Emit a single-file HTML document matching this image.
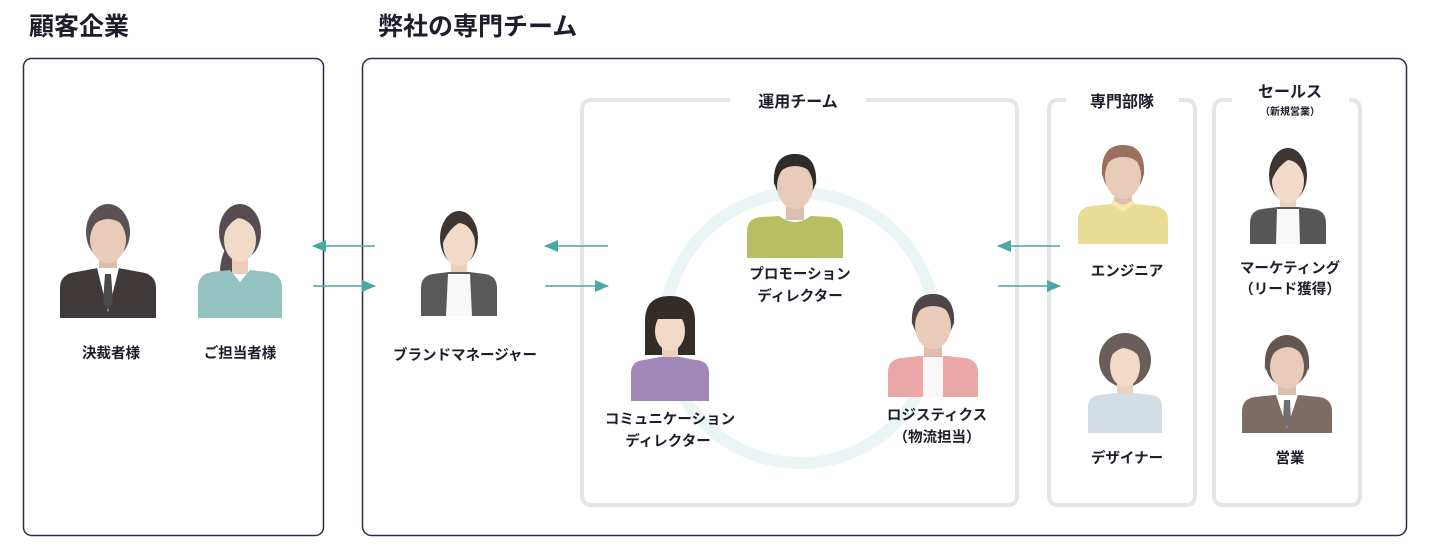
<!DOCTYPE html>
<html><head><meta charset="utf-8"><style>
html,body{margin:0;padding:0;background:#fff;}
svg{display:block;font-family:"Liberation Sans","Noto Sans CJK JP",sans-serif;}
.t{font-size:14.5px;font-weight:bold;fill:#1d1d2b;text-anchor:middle;}
.h{font-size:16px;font-weight:bold;fill:#1d1d2b;text-anchor:middle;}
</style></head><body>
<svg width="1440" height="555" viewBox="0 0 1440 555" xmlns="http://www.w3.org/2000/svg">
<defs>
<marker id="ah" markerWidth="14" markerHeight="12" refX="13" refY="6" orient="auto" markerUnits="userSpaceOnUse"><path d="M0,0 L14,6 L0,12Z" fill="#4aa8a4"/></marker>
</defs>
<text x="29" y="35" font-size="25" font-weight="bold" fill="#1d1d2b">顧客企業</text>
<text x="378" y="35" font-size="25" font-weight="bold" fill="#1d1d2b">弊社の専門チーム</text>
<rect x="23.5" y="58.5" width="300" height="477" rx="8" fill="none" stroke="#2b2d42" stroke-width="1.5"/>
<rect x="362.5" y="58.5" width="1044" height="477" rx="9" fill="none" stroke="#2b2d42" stroke-width="1.5"/>
<path d="M730,100 H592 Q582,100 582,110 V495 Q582,505 592,505 H1007 Q1017,505 1017,495 V110 Q1017,100 1007,100 H866" fill="none" stroke="#e4e4e9" stroke-width="4"/>
<text class="h" x="798" y="107">運用チーム</text>
<path d="M1066,100 H1058 Q1049,100 1049,110 V495 Q1049,505 1058,505 H1186 Q1195,505 1195,495 V110 Q1195,100 1186,100 H1179" fill="none" stroke="#e4e4e9" stroke-width="4"/>
<text class="h" x="1122" y="107">専門部隊</text>
<path d="M1232,100 H1223 Q1214,100 1214,110 V495 Q1214,505 1223,505 H1351 Q1360,505 1360,495 V110 Q1360,100 1351,100 H1349" fill="none" stroke="#e4e4e9" stroke-width="4"/>
<text class="h" x="1290" y="97" font-size="17">セールス</text>
<text x="1290" y="115" font-size="10" font-weight="bold" fill="#1d1d2b" text-anchor="middle">（新規営業）</text>
<circle cx="800" cy="328" r="135" fill="none" stroke="#ebf5f5" stroke-width="12"/>
<g stroke="#4aa8a4" stroke-width="1.6" fill="none">
<line x1="375" y1="246" x2="313" y2="246" marker-end="url(#ah)"/>
<line x1="313" y1="286" x2="375" y2="286" marker-end="url(#ah)"/>
<line x1="608" y1="246" x2="545" y2="246" marker-end="url(#ah)"/>
<line x1="545" y1="286" x2="608" y2="286" marker-end="url(#ah)"/>
<line x1="1060" y1="246" x2="998" y2="246" marker-end="url(#ah)"/>
<line x1="998" y1="286" x2="1060" y2="286" marker-end="url(#ah)"/>
</g>

<g transform="translate(108,202)">
<ellipse cx="0" cy="30" rx="22" ry="28" fill="#5a5254"/>
<rect x="-9" y="50" width="18" height="22" fill="#dcbfae"/>
<path d="M-48,116 L-48,86 Q-48,72 -32,70 L-10,66 L10,66 L32,70 Q48,72 48,86 L48,116Z" fill="#3f3a39"/>
<path d="M-11,66 L0,110 L11,66Z" fill="#fff"/><path d="M-3,72 L3,72 L5,100 L0,108 L-5,100Z" fill="#4a4a4a"/>
<ellipse cx="0" cy="38" rx="18" ry="23" fill="#e8cbb8"/>
<path d="M-21,36 Q-23,4 0,4 Q23,4 21,36 Q18,18 0,17 Q-17,18 -21,36Z" fill="#5a5254"/>
</g>
<g transform="translate(240,202)">
<ellipse cx="0" cy="30" rx="21" ry="28" fill="#554d4f"/>
<path d="M-14,45 Q-26,70 -14,95 Q-4,80 -8,55Z" fill="#554d4f"/>
<rect x="-8" y="50" width="16" height="22" fill="#ecd0bc"/>
<path d="M-42,116 L-42,86 Q-42,72 -28,70 L-10,68 L0,80 L10,68 L28,70 Q42,72 42,86 L42,116Z" fill="#93c2c1"/>
<ellipse cx="0" cy="38" rx="16" ry="22" fill="#f2dac8"/>
<path d="M-19,40 Q-22,6 0,6 Q21,6 19,40 Q14,18 -2,16 Q-14,22 -19,40Z" fill="#554d4f"/>
</g>
<g transform="translate(459,208)">
<ellipse cx="0" cy="30" rx="19" ry="27" fill="#3e3532"/>
<rect x="-8" y="48" width="16" height="22" fill="#ecd0bc"/>
<path d="M-38,108 L-38,80 Q-38,68 -26,66 L-10,64 L10,64 L26,66 Q38,68 38,80 L38,108Z" fill="#5a5959"/>
<path d="M-11,66 L11,66 L13,108 L-13,108Z" fill="#f8f8f8"/>
<ellipse cx="0" cy="36" rx="16" ry="22" fill="#f2dac8"/>
<path d="M-18,40 Q-20,5 0,5 Q19,5 18,40 Q14,16 0,15 Q-12,22 -18,40Z" fill="#3e3532"/>
</g>
<g transform="translate(795,152)">
<ellipse cx="0" cy="26" rx="21" ry="24" fill="#2f2b28"/>
<rect x="-9" y="46" width="18" height="22" fill="#dcbfae"/>
<path d="M-48,106 L-48,80 Q-48,66 -34,65 L-16,64 Q0,76 16,64 L34,65 Q48,66 48,80 L48,106Z" fill="#b6c063"/>
<ellipse cx="0" cy="34" rx="18" ry="23" fill="#e8cbb8"/>
<path d="M-21,34 Q-23,2 0,2 Q23,2 21,34 Q18,14 0,14 Q-17,14 -21,34Z" fill="#2f2b28"/>
</g>
<g transform="translate(670,295)">
<path d="M-25,60 L-25,26 Q-25,1 0,1 Q25,1 25,26 L25,60 Z" fill="#332d2a"/>
<rect x="-8" y="50" width="16" height="18" fill="#ecd0bc"/>
<path d="M-39,106 L-39,78 Q-39,66 -26,65 L-10,62 L10,62 L26,65 Q39,66 39,78 L39,106Z" fill="#a287b9"/>
<ellipse cx="0" cy="36" rx="15" ry="20" fill="#f2dac8"/>
<rect x="-18" y="8" width="36" height="16" fill="#332d2a"/>
</g>
<g transform="translate(933,292)">
<ellipse cx="0" cy="26" rx="21" ry="24" fill="#4e4549"/>
<rect x="-9" y="46" width="18" height="22" fill="#dcbfae"/>
<path d="M-45,105 L-45,80 Q-45,68 -32,66 L-14,64 L14,64 L32,66 Q45,68 45,80 L45,105Z" fill="#e9a7a5"/>
<path d="M-10,65 L10,65 L10,105 L-10,105Z" fill="#f8f8f8"/>
<ellipse cx="0" cy="34" rx="18" ry="23" fill="#e8cbb8"/>
<path d="M-21,34 Q-23,2 0,2 Q23,2 21,34 Q18,14 0,14 Q-17,14 -21,34Z" fill="#4e4549"/>
</g>
<g transform="translate(1123,142)">
<ellipse cx="0" cy="28" rx="21" ry="25" fill="#9c7060"/>
<rect x="-9" y="46" width="18" height="22" fill="#dcbfae"/>
<path d="M-45,102 L-45,78 Q-45,66 -32,64 L-12,62 L12,62 L32,64 Q45,66 45,78 L45,102Z" fill="#e9dd95"/>
<path d="M-12,62 L0,70 L12,62 L10,58 L0,64 L-10,58Z" fill="#f7eaa8"/>
<ellipse cx="0" cy="34" rx="18" ry="23" fill="#e8cbb8"/>
<path d="M-21,34 Q-23,3 0,3 Q23,3 21,34 Q18,15 0,15 Q-17,15 -21,34Z" fill="#9c7060"/>
</g>
<g transform="translate(1125,332)">
<ellipse cx="0" cy="28" rx="26" ry="27" fill="#6b5e5a"/>
<rect x="-8" y="46" width="16" height="22" fill="#ecd0bc"/>
<path d="M-37,101 L-37,76 Q-37,64 -26,63 L-10,61 L10,61 L26,63 Q37,64 37,76 L37,101Z" fill="#d3dde4"/>
<ellipse cx="0" cy="34" rx="15" ry="21" fill="#f2dac8"/>
<path d="M-22,40 Q-24,6 0,6 Q24,6 22,40 Q16,18 -2,16 Q-16,20 -22,40Z" fill="#6b5e5a"/>
</g>
<g transform="translate(1288,145)">
<ellipse cx="0" cy="30" rx="19" ry="27" fill="#3e3532"/>
<rect x="-8" y="48" width="16" height="22" fill="#ecd0bc"/>
<path d="M-38,99 L-38,78 Q-38,66 -26,64 L-10,62 L10,62 L26,64 Q38,66 38,78 L38,99Z" fill="#575656"/>
<path d="M-11,64 L11,64 L12,99 L-12,99Z" fill="#f8f8f8"/>
<ellipse cx="0" cy="36" rx="16" ry="22" fill="#f2dac8"/>
<path d="M-18,40 Q-20,5 0,5 Q19,5 18,40 Q14,16 0,15 Q-12,22 -18,40Z" fill="#3e3532"/>
</g>
<g transform="translate(1287,333)">
<ellipse cx="0" cy="28" rx="22" ry="26" fill="#65574f"/>
<rect x="-9" y="46" width="18" height="22" fill="#dcbfae"/>
<path d="M-45,100 L-45,78 Q-45,66 -32,64 L-12,62 L12,62 L32,64 Q45,66 45,78 L45,100Z" fill="#7d6b64"/>
<path d="M-11,62 L0,95 L11,62Z" fill="#fff"/><path d="M-3,67 L3,67 L4,88 L0,94 L-4,88Z" fill="#6f6f6f"/>
<ellipse cx="0" cy="34" rx="17" ry="22" fill="#e8cbb8"/>
<path d="M-22,38 Q-24,3 0,3 Q24,3 22,38 Q16,14 0,14 Q-17,16 -22,38Z" fill="#65574f"/>
</g>

<text class="t" x="111" y="358">決裁者様</text>
<text class="t" x="240" y="358">ご担当者様</text>
<text class="t" x="465" y="360">ブランドマネージャー</text>
<text class="t" x="800" y="279">プロモーション</text>
<text class="t" x="800" y="301">ディレクター</text>
<text class="t" x="670" y="424">コミュニケーション</text>
<text class="t" x="668" y="446">ディレクター</text>
<text class="t" x="937" y="420">ロジスティクス</text>
<text class="t" x="937" y="442">（物流担当）</text>
<text class="t" x="1127" y="276">エンジニア</text>
<text class="t" x="1290" y="273">マーケティング</text>
<text class="t" x="1290" y="294">（リード獲得）</text>
<text class="t" x="1127" y="463">デザイナー</text>
<text class="t" x="1290" y="463">営業</text>
</svg>
</body></html>
